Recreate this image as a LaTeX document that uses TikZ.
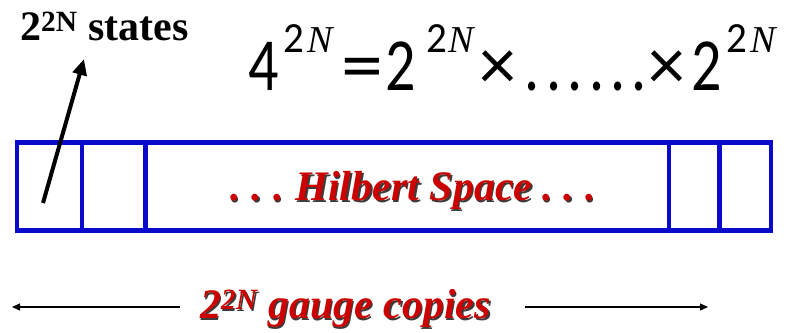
\documentclass[tikz,border=0pt]{standalone}
\usepackage{fontspec}
\usepackage{graphicx}
\setmainfont{Liberation Serif}
\newfontfamily\carl{Carlito}
\newfontfamily\serifit{Liberation Serif}
\definecolor{boxblue}{RGB}{10,10,205}
\definecolor{txtred}{RGB}{205,0,0}
\definecolor{shadowgray}{RGB}{60,60,60}
\newcommand{\hsdots}{.\hspace{11pt}.\hspace{11pt}.}
\newcommand{\eqb}[1]{\scalebox{1}[1.25]{\carl\fontsize{60}{62}\selectfont #1}}
\newcommand{\eqs}[1]{\scalebox{1}[1.05]{\carl\fontsize{41}{43}\selectfont #1}}
\newcommand{\eqn}[1]{{\serifit\itshape\fontsize{38}{40}\selectfont #1}}
\newcommand{\eqx}[1]{{\carl\fontsize{74}{76}\selectfont #1}}
\newcommand{\eqdot}{\hspace{6.3pt}}
\tikzset{
  cell/.style={draw=boxblue, line width=4.5pt},
  shadowtext/.style={text=shadowgray, inner sep=0pt},
  redtext/.style={text=txtred, inner sep=0pt},
  thinarrow/.style={-{Triangle[length=8pt,width=7pt]}, line width=1.2pt},
  eqpart/.style={inner sep=0pt, anchor=base},
}
\usetikzlibrary{arrows.meta}
\begin{document}
\begin{tikzpicture}[x=1pt,y=-1pt]
\useasboundingbox (0,0) rectangle (787,332);
% box
\node[cell, minimum width=754pt, minimum height=88pt, inner sep=0pt] (hs) at (394,186.5) {};
\coordinate (d1t) at (82,142.5); \coordinate (d1b) at (82,230.5);
\coordinate (d2t) at (145.5,142.5); \coordinate (d2b) at (145.5,230.5);
\coordinate (d3t) at (669,142.5); \coordinate (d3b) at (669,230.5);
\coordinate (d4t) at (719.5,142.5); \coordinate (d4b) at (719.5,230.5);
\draw[cell] (d1t) -- (d1b);
\draw[cell] (d2t) -- (d2b);
\draw[cell] (d3t) -- (d3b);
\draw[cell] (d4t) -- (d4b);
% Hilbert text
\node[shadowtext, font=\fontsize{42}{44}\selectfont\bfseries\itshape] (hsh) at (414.5,192) {\hsdots\hspace{12pt}Hilbert Space\hspace{10pt}\hsdots};
\node[redtext, font=\fontsize{42}{44}\selectfont\bfseries\itshape] (hst) at (413,190.5) {\hsdots\hspace{12pt}Hilbert Space\hspace{10pt}\hsdots};
% states label
\node[anchor=west, inner sep=0pt, font=\fontsize{42}{44}\selectfont\bfseries] (st) at (20,26) {2\textsuperscript{2N} states};
% arrow
\coordinate (a0) at (43,203);
\coordinate (a1) at (84,59);
\draw[line width=4pt, -{Triangle[length=16pt,width=14pt]}] (a0) -- (a1);
% equation
\node[eqpart] (e4) at (263.5,90) {\eqb{4}};
\node[eqpart] (s1) at (294,52) {\eqs{2}};
\node[eqpart] (n1) at (320,52) {\eqn{N}};
\node[eqpart] (eqs) at (362,90) {\scalebox{1.4}[1.25]{\carl\fontsize{60}{62}\selectfont =}};
\node[eqpart] (e2a) at (401,90) {\eqb{2}};
\node[eqpart] (s2) at (437,52) {\eqs{2}};
\node[eqpart] (n2) at (461,52) {\eqn{N}};
\node[eqpart] (x1) at (497.5,89) {\eqx{×}};
\node[eqpart] (dots) at (586,90) {\eqb{.\eqdot.\eqdot.\eqdot.\eqdot.\eqdot.}};
\node[eqpart] (x2) at (667,89) {\eqx{×}};
\node[eqpart] (e2b) at (707,90) {\eqb{2}};
\node[eqpart] (s3) at (736.5,52) {\eqs{2}};
\node[eqpart] (n3) at (763.5,52) {\eqn{N}};
% gauge copies
\node[shadowtext, font=\fontsize{42}{44}\selectfont\bfseries\itshape] (gch) at (347,310) {2\textsuperscript{2N} gauge copies};
\node[redtext, font=\fontsize{42}{44}\selectfont\bfseries\itshape] (gc) at (345.5,308.5) {2\textsuperscript{2N} gauge copies};
\coordinate (l0) at (180,307); \coordinate (l1) at (12,307);
\coordinate (r0) at (525,307); \coordinate (r1) at (708,307);
\draw[thinarrow] (l0) -- (l1);
\draw[thinarrow] (r0) -- (r1);
\end{tikzpicture}
\end{document}
